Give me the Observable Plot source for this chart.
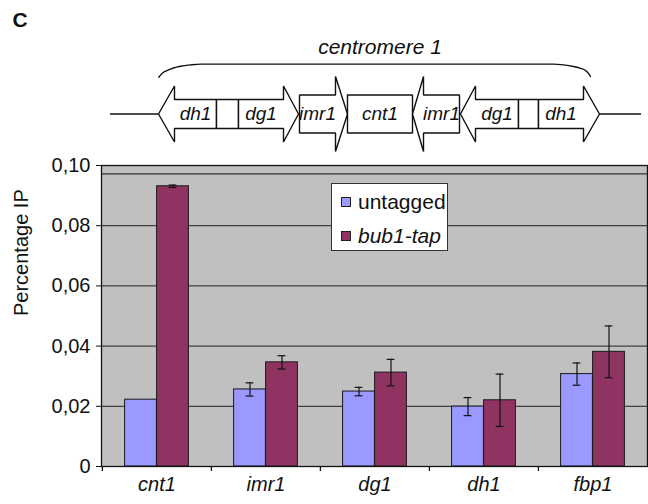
<!DOCTYPE html>
<html>
<head>
<meta charset="utf-8">
<script src="https://cdn.jsdelivr.net/npm/d3@7"></script>
<script src="https://cdn.jsdelivr.net/npm/@observablehq/plot@0.6"></script>
<style>
  body { margin: 0; background: #fff; font-family: "Liberation Sans", Arial, sans-serif; }
  #wrap { position: relative; width: 648px; height: 504px; overflow: hidden; background: #fff; }
  #wrap svg { display: block; }
  #legend { position: absolute; left: 331px; top: 183px; width: 117px; height: 68px; box-sizing: border-box;
            background: #fff; border: 1px solid #333; font-size: 21px; color: #111; }
  #legend .sw { position: absolute; left: 9px; width: 10px; height: 10px; border: 1px solid #222; box-sizing: border-box; }
  #legend .lb { position: absolute; left: 26px; height: 24px; line-height: 24px; white-space: nowrap; }
</style>
</head>
<body>
<div id="wrap"></div>
<script>
// ---------- chart data ----------
const categories = ["cnt1", "imr1", "dg1", "dh1", "fbp1"];
const seriesNames = ["untagged", "bub1-tap"];
const untagged = [0.0222, 0.0256, 0.0249, 0.0199, 0.0307];
const untaggedErr = [0, 0.0022, 0.0014, 0.0030, 0.0037];
const bub1tap = [0.0931, 0.0346, 0.0312, 0.0220, 0.0381];
const bub1tapErr = [0.0004, 0.0022, 0.0044, 0.0087, 0.0086];
const yTicks = [0, 0.02, 0.04, 0.06, 0.08, 0.10];
const gridValues = [0.02, 0.04, 0.06, 0.08];
const innerTopLine = [0.0972];
const colors = ["#9999ff", "#8f3462"];

// ---------- diagram data (schematic units) ----------
const partLabels = ["dh1", "", "dg1", "imr1", "cnt1", "imr1", "dg1", "", "dh1"];
const partKinds  = ["left", "box", "right", "right", "box", "left", "left", "box", "right"];
const partStart  = [158, 216, 238, 299, 347, 412, 460, 518, 538];
const partEnd    = [216, 238, 298, 347, 412, 459, 518, 538, 599];
const partHead   = [16, 0, 15, 12, 0, 11, 15, 0, 16];
const partSize   = ["small", "small", "small", "large", "large", "large", "small", "small", "small"];
const bodyHalf = {small: 14.5, large: 19};
const headHalf = {small: 28, large: 37.5};
const axisLevel = 113.5;
const baseLines = [[110, 158], [599, 640]];
const braceX = [158.3, 162, 167, 173, 180, 190, 200, 553, 563, 573, 580, 585, 588, 590];
const braceY = [76.7, 72.5, 69.8, 67.5, 65.8, 64.4, 63.6, 63.6, 64.4, 66, 67.8, 70, 72.8, 76];

const FONT = '"Liberation Sans", Arial, sans-serif';
const W = 648;

// ---------- diagram ----------
const poly = [];
partKinds.forEach((k, i) => {
  const a = partStart[i], b = partEnd[i], h = partHead[i];
  const bh = bodyHalf[partSize[i]], hh = headHalf[partSize[i]], c = axisLevel;
  let pts;
  if (k === "box") pts = [[a, c - bh], [b, c - bh], [b, c + bh], [a, c + bh], [a, c - bh]];
  else if (k === "left") pts = [[a, c], [a + h, c - hh], [a + h, c - bh], [b, c - bh], [b, c + bh], [a + h, c + bh], [a + h, c + hh], [a, c]];
  else pts = [[b, c], [b - h, c - hh], [b - h, c - bh], [a, c - bh], [a, c + bh], [b - h, c + bh], [b - h, c + hh], [b, c]];
  pts.forEach(([x, y]) => poly.push({id: i, x, y}));
});
const labelRows = partLabels.map((t, i) => {
  const k = partKinds[i];
  const a = k === "left" ? partStart[i] + partHead[i] : partStart[i];
  const b = k === "right" ? partEnd[i] - partHead[i] : partEnd[i];
  return {t, x: (a + b) / 2, y: axisLevel};
}).filter(d => d.t);
const brace = braceX.map((x, i) => ({x, y: braceY[i]}));
const base = baseLines.flatMap(([a, b], i) => [{id: i, x: a, y: axisLevel}, {id: i, x: b, y: axisLevel}]);

const diag = Plot.plot({
  width: W, height: 160, margin: 0,
  x: {domain: [0, W], range: [0, W], axis: null},
  y: {domain: [0, 160], range: [0, 160], axis: null},
  style: {background: "transparent", overflow: "visible", fontFamily: FONT},
  marks: [
    Plot.text(["C"], {x: 12, y: 20, text: d => d, textAnchor: "start", fontSize: 21, fontWeight: "bold", fill: "#111"}),
    Plot.text(["centromere 1"], {x: 379.5, y: 46.5, text: d => d, fontSize: 21, fontStyle: "italic", fill: "#111"}),
    Plot.line(brace, {x: "x", y: "y", curve: "monotone-x", stroke: "#111", strokeWidth: 1.4}),
    Plot.line(base, {x: "x", y: "y", z: "id", stroke: "#111", strokeWidth: 1.4}),
    Plot.line(poly, {x: "x", y: "y", z: "id", fill: "white", stroke: "#111", strokeWidth: 1.4, strokeLinejoin: "miter"}),
    Plot.text(labelRows, {x: "x", y: "y", text: "t", fontSize: 19, fontStyle: "italic", fill: "#111"})
  ]
});

// ---------- chart ----------
const mL = 101, mR = 1, mT = 5, mB = 38;
const bw = (W - mL - mR) / categories.length;
const barW = 32, capW = 8;
const rows = categories.flatMap((c, i) => [
  {cat: c, s: seriesNames[0], v: untagged[i], e: untaggedErr[i]},
  {cat: c, s: seriesNames[1], v: bub1tap[i], e: bub1tapErr[i]}
]);
const rowsU = rows.filter(d => d.s === seriesNames[0]);
const rowsB = rows.filter(d => d.s === seriesNames[1]);
const errU = rowsU.filter(d => d.e > 0), errB = rowsB.filter(d => d.e > 0);
const capsOf = arr => arr.flatMap(d => [{cat: d.cat, y: d.v - d.e}, {cat: d.cat, y: d.v + d.e}]);
const cU = bw / 2 - barW / 2, cB = bw / 2 + barW / 2; // bar centres within band

const chart = Plot.plot({
  width: W, height: 344,
  marginLeft: mL, marginRight: mR, marginTop: mT, marginBottom: mB,
  style: {background: "transparent", overflow: "visible", fontFamily: FONT, color: "#111"},
  x: {domain: categories, padding: 0, axis: null},
  y: {domain: [0, 0.1], axis: null},
  marks: [
    Plot.frame({fill: "#c0c0c0", stroke: null}),
    Plot.ruleY(gridValues, {stroke: "#222", strokeWidth: 1}),
    Plot.ruleY(innerTopLine, {stroke: "#333", strokeWidth: 1.2}),
    Plot.barY(rowsU, {x: "cat", y: "v", fill: colors[0], stroke: "#1a1a1a", strokeWidth: 1, insetLeft: bw / 2 - barW, insetRight: bw / 2}),
    Plot.barY(rowsB, {x: "cat", y: "v", fill: colors[1], stroke: "#1a1a1a", strokeWidth: 1, insetLeft: bw / 2, insetRight: bw / 2 - barW}),
    Plot.ruleX(errU, {x: "cat", y1: d => d.v - d.e, y2: d => d.v + d.e, dx: -barW / 2, stroke: "#111", strokeWidth: 1.2}),
    Plot.ruleX(errB, {x: "cat", y1: d => d.v - d.e, y2: d => d.v + d.e, dx: barW / 2, stroke: "#111", strokeWidth: 1.2}),
    Plot.tickY(capsOf(errU), {x: "cat", y: "y", insetLeft: cU - capW / 2, insetRight: bw - cU - capW / 2, stroke: "#111", strokeWidth: 1.2}),
    Plot.tickY(capsOf(errB), {x: "cat", y: "y", insetLeft: cB - capW / 2, insetRight: bw - cB - capW / 2, stroke: "#111", strokeWidth: 1.2}),
    Plot.frame({stroke: "#111", strokeWidth: 1.3}),
    Plot.ruleX(categories, {x: d => d, dx: -bw / 2, y1: 0, y2: 0, insetBottom: -5, stroke: "#111", strokeWidth: 1.3}),
    Plot.axisY(yTicks, {anchor: "left", tickSize: 5, tickPadding: 6, fontSize: 20, label: null,
      tickFormat: d => d === 0 ? "0" : d.toFixed(2).replace(".", ","), stroke: "#111", fill: "#111"}),
    Plot.text(categories, {x: d => d, text: d => d, frameAnchor: "bottom", dy: 24, fontSize: 20, fontStyle: "italic", fill: "#111"}),
    Plot.text(["Percentage IP"], {text: d => d, frameAnchor: "left", dx: -80, rotate: -90, fontSize: 20, fill: "#111"})
  ]
});

const wrap = document.getElementById("wrap");
wrap.appendChild(diag);
wrap.appendChild(chart);

// legend
const legend = document.createElement("div");
legend.id = "legend";
seriesNames.forEach((name, i) => {
  const sw = document.createElement("div");
  sw.className = "sw";
  sw.style.top = (13 + i * 34) + "px";
  sw.style.background = colors[i];
  const lb = document.createElement("div");
  lb.className = "lb";
  lb.style.top = (6 + i * 34) + "px";
  if (i === 1) lb.style.fontStyle = "italic";
  lb.textContent = name;
  legend.appendChild(sw);
  legend.appendChild(lb);
});
wrap.appendChild(legend);
</script>
</body>
</html>
